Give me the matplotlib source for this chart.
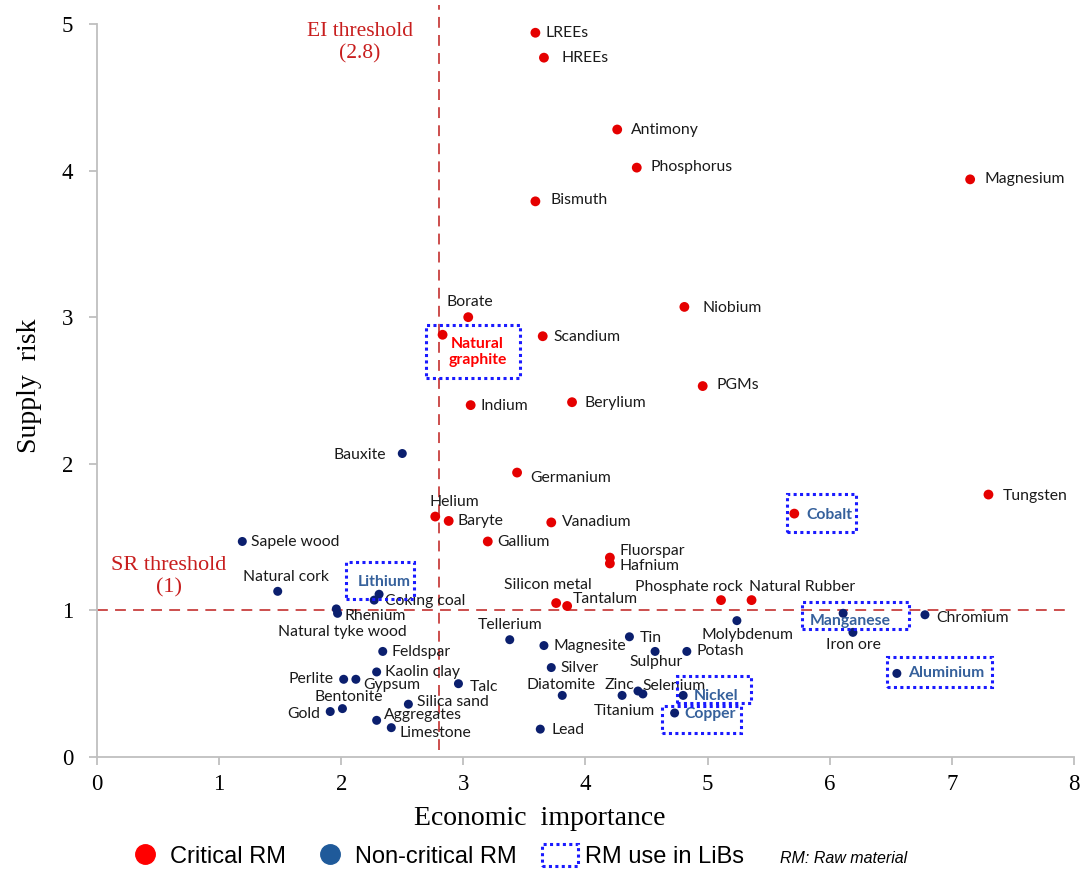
import matplotlib.pyplot as plt
import matplotlib.patches as mpatches
import matplotlib.transforms as mtransforms
from matplotlib.lines import Line2D

plt.rcParams['font.family'] = ['Liberation Serif', 'DejaVu Serif']

# critical raw materials (economic importance, supply risk)
critical_names = ["LREEs", "HREEs", "Antimony", "Phosphorus", "Magnesium", "Bismuth",
                  "Borate", "Natural graphite", "Scandium", "Niobium", "PGMs", "Indium",
                  "Berylium", "Germanium", "Tungsten", "Cobalt", "Helium", "Baryte",
                  "Vanadium", "Gallium", "Fluorspar", "Hafnium", "Silicon metal",
                  "Tantalum", "Phosphate rock", "Natural Rubber"]
critical_ei = [3.59, 3.66, 4.26, 4.42, 7.15, 3.59, 3.04, 2.83, 3.65, 4.81, 4.96, 3.06,
               3.89, 3.44, 7.30, 5.71, 2.77, 2.88, 3.72, 3.20, 4.20, 4.20, 3.76, 3.85,
               5.11, 5.36]
critical_sr = [4.94, 4.77, 4.28, 4.02, 3.94, 3.79, 3.00, 2.88, 2.87, 3.07, 2.53, 2.40,
               2.42, 1.94, 1.79, 1.66, 1.64, 1.61, 1.60, 1.47, 1.36, 1.32, 1.05, 1.03,
               1.07, 1.07]

# non-critical raw materials
noncritical_names = ["Bauxite", "Sapele wood", "Natural cork", "Lithium", "Coking coal",
                     "Rhenium", "Natural tyke wood", "Feldspar", "Kaolin clay", "Perlite",
                     "Gypsum", "Talc", "Silica sand", "Bentonite", "Gold", "Aggregates",
                     "Limestone", "Tellerium", "Magnesite", "Silver", "Diatomite", "Lead",
                     "Tin", "Sulphur", "Potash", "Zinc", "Titanium", "Selenium", "Nickel",
                     "Copper", "Molybdenum", "Manganese", "Iron ore", "Chromium", "Aluminium"]
noncritical_ei = [2.50, 1.19, 1.48, 2.31, 2.27, 1.97, 1.96, 2.34, 2.29, 2.02, 2.12, 2.96,
                  2.55, 2.01, 1.91, 2.29, 2.41, 3.38, 3.66, 3.72, 3.81, 3.63, 4.36, 4.57,
                  4.83, 4.30, 4.43, 4.47, 4.80, 4.73, 5.24, 6.11, 6.19, 6.78, 6.55]
noncritical_sr = [2.07, 1.47, 1.13, 1.11, 1.07, 0.98, 1.01, 0.72, 0.58, 0.53, 0.53, 0.50,
                  0.36, 0.33, 0.31, 0.25, 0.20, 0.80, 0.76, 0.61, 0.42, 0.19, 0.82, 0.72,
                  0.72, 0.42, 0.45, 0.43, 0.42, 0.30, 0.93, 0.98, 0.85, 0.97, 0.57]

EI_THRESHOLD = 2.8
SR_THRESHOLD = 1

# raw materials used in Li-ion batteries
libs_materials = ["Natural graphite", "Lithium", "Cobalt", "Manganese", "Aluminium",
                  "Nickel", "Copper"]

# label offset from its marker in pixels (dx, dy) and horizontal alignment
label_pos = {
    "LREEs": (10, 0, "left"), "HREEs": (18, 0, "left"), "Antimony": (14, 0, "left"),
    "Phosphorus": (14, 1, "left"), "Magnesium": (14, 0, "left"), "Bismuth": (15, 1, "left"),
    "Borate": (2, 15, "center"), "Natural graphite": (35, -17, "center"),
    "Scandium": (11, -1, "left"), "Niobium": (18, -1, "left"), "PGMs": (14, 1, "left"),
    "Indium": (10, -1, "left"), "Berylium": (12, -1, "left"), "Germanium": (13, -5, "left"),
    "Tungsten": (14, -1, "left"), "Cobalt": (12, -1, "left"), "Helium": (-6, 15, "left"),
    "Baryte": (9, 0, "left"), "Vanadium": (11, 0, "left"), "Gallium": (9, -1, "left"),
    "Fluorspar": (10, 7, "left"), "Hafnium": (10, -3, "left"),
    "Silicon metal": (-8, 18, "center"), "Tantalum": (6, 7, "left"),
    "Phosphate rock": (-32, 13, "center"), "Natural Rubber": (-3, 13, "left"),
    "Bauxite": (-16, -1, "right"), "Sapele wood": (9, -1, "left"),
    "Natural cork": (8, 14, "center"), "Lithium": (5, 12, "center"),
    "Coking coal": (11, -1, "left"), "Rhenium": (7, -3, "left"),
    "Natural tyke wood": (6, -23, "center"), "Feldspar": (9, -1, "left"),
    "Kaolin clay": (8, 0, "left"), "Perlite": (-10, 0, "right"), "Gypsum": (7, -6, "left"),
    "Talc": (11, -3, "left"), "Silica sand": (9, 2, "left"), "Bentonite": (6, 12, "center"),
    "Gold": (-10, -2, "right"), "Aggregates": (7, 5, "left"), "Limestone": (8, -5, "left"),
    "Tellerium": (0, 15, "center"), "Magnesite": (10, 0, "left"), "Silver": (9, 0, "left"),
    "Diatomite": (-1, 10, "center"), "Lead": (11, -1, "left"), "Tin": (10, -1, "left"),
    "Sulphur": (1, -11, "center"), "Potash": (10, 0, "left"), "Zinc": (-3, 10, "center"),
    "Titanium": (17, -20, "right"), "Selenium": (0, 8, "left"), "Nickel": (11, -1, "left"),
    "Copper": (10, -1, "left"), "Molybdenum": (11, -14, "center"),
    "Manganese": (7, -8, "center"), "Iron ore": (1, -13, "center"),
    "Chromium": (11, -3, "left"), "Aluminium": (11, 0, "left"),
}

# dotted frame around LiB materials: left, right, top, bottom in pixels from the marker
frame_pos = {
    "Lithium": (-33, 35, 32, -5),
    "Natural graphite": (-17, 77, 10, -43),
    "Cobalt": (-7, 62, 20, -18),
    "Manganese": (-41, 66, 11, -16),
    "Aluminium": (-10, 95, 16, -14),
    "Nickel": (-6, 68, 19, -8),
    "Copper": (-13, 66, 7, -20),
}

red = "#e50000"
navy = "#0b1f6e"
libs_blue = "#36619c"
frame_blue = "#1a1aff"
threshold_red = "#c8403f"
threshold_text = "#c81e1e"

fig = plt.figure(figsize=(10.86, 8.71), dpi=100)
ax = fig.add_axes([0.0893, 0.1309, 0.8996, 0.8416])
ax.set_xlim(0, 8)
ax.set_ylim(0, 5)

for side in ["top", "right"]:
    ax.spines[side].set_visible(False)
for side in ["left", "bottom"]:
    ax.spines[side].set_color("#bfbfbf")
    ax.spines[side].set_linewidth(1.3)
ax.tick_params(colors="#bfbfbf", labelcolor="black", length=6, width=1.3, labelsize=16.5)
ax.tick_params(axis="y", pad=11)
ax.tick_params(axis="x", pad=6)
ax.set_xticks(range(0, 9))
ax.set_yticks(range(0, 6))

ax.set_xlabel("Economic  importance", fontsize=20)
ax.set_ylabel("Supply  risk", fontsize=20)
ax.xaxis.set_label_coords(0.453, -0.067)
ax.yaxis.set_label_coords(-0.056, 0.507)

# threshold lines
ax.axvline(EI_THRESHOLD, ymin=0.01, ymax=1.026, color=threshold_red, lw=1.3,
           dashes=(6, 4), clip_on=False, zorder=1)
ax.axhline(SR_THRESHOLD, xmin=0, xmax=0.994, color=threshold_red, lw=1.3,
           dashes=(6, 4), zorder=1)
fig.text(360 / 1086, 1 - 43 / 871, "EI threshold\n(2.8)", color=threshold_text,
         fontsize=15.5, ha="center", va="center", linespacing=1.25)
fig.text(169 / 1086, 1 - 577 / 871, "SR threshold\n(1)", color=threshold_text,
         fontsize=16, ha="center", va="center", linespacing=1.2)

ax.scatter(critical_ei, critical_sr, s=50, color=red, edgecolors="none", zorder=3)
ax.scatter(noncritical_ei, noncritical_sr, s=42, color=navy, edgecolors="none", zorder=3)

points = list(zip(critical_names, critical_ei, critical_sr)) + \
    list(zip(noncritical_names, noncritical_ei, noncritical_sr))

for name, x, y in points:
    dx, dy, ha = label_pos[name]
    style = dict(color="#1a1a1a", fontweight="normal")
    text = name
    if name == "Natural graphite":
        style = dict(color="#ff0000", fontweight="bold")
        text = "Natural\ngraphite"
    elif name in libs_materials:
        style = dict(color=libs_blue, fontweight="bold")
    ax.annotate(text, (x, y), xytext=(dx, dy), textcoords="offset pixels",
                ha=ha, va="center", fontsize=11.3, family="Lato",
                linespacing=1.2, zorder=4, **style)

    if name in frame_pos:
        left, right, top, bottom = frame_pos[name]
        trans = fig.dpi_scale_trans + mtransforms.ScaledTranslation(x, y, ax.transData)
        frame = mpatches.Rectangle((left / 100, bottom / 100), (right - left) / 100,
                                   (top - bottom) / 100, transform=trans, fill=False,
                                   edgecolor=frame_blue, lw=2.2, linestyle=(0, (1, 1.1)),
                                   clip_on=False, zorder=5)
        ax.add_patch(frame)

# legend along the bottom
handles = [
    Line2D([], [], marker="o", ls="", color="#ff0000", markersize=14),
    Line2D([], [], marker="o", ls="", color="#1f5a9a", markersize=14),
    mpatches.Patch(facecolor="none", edgecolor=frame_blue, lw=2.2, linestyle=(0, (1, 1.1))),
]
fig.legend(handles, ["Critical RM", "Non-critical RM", "RM use in LiBs"],
           loc="center", bbox_to_anchor=(0.401, 1 - 856 / 871), ncol=3, frameon=False,
           prop={"family": "Liberation Sans", "size": 17}, handlelength=1.52,
           handleheight=1.1, handletextpad=0.3, columnspacing=1.1)
fig.text(780 / 1086, 1 - 858 / 871, "RM: Raw material", style="italic",
         family="Liberation Sans", fontsize=11.5, va="center")

fig.savefig("out.png", dpi=100)
